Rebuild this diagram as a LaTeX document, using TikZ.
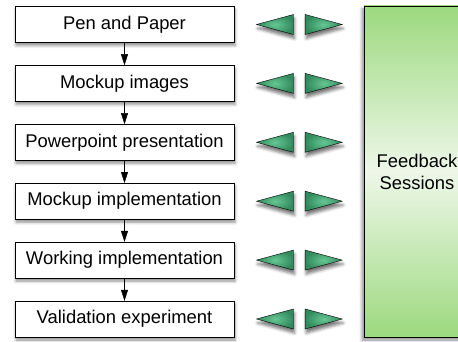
\documentclass[tikz,border=0pt]{standalone}
\usepackage{fontspec}
\setmainfont{Liberation Sans}
\usetikzlibrary{arrows.meta,shapes.geometric,shadows.blur}

\definecolor{panelgreen}{RGB}{156,217,126}
\definecolor{panellight}{RGB}{238,247,233}
\definecolor{tridark}{RGB}{50,138,92}
\definecolor{trilight}{RGB}{102,198,148}

\tikzset{
  stage/.style={draw, fill=white, minimum width=219pt, minimum height=36pt, inner sep=0pt,
    font=\fontsize{18.4}{22}\selectfont,
    blur shadow={shadow xshift=1pt, shadow yshift=-3pt, shadow blur radius=3pt, shadow opacity=45}},
  tri/.style={draw, isosceles triangle, isosceles triangle stretches, minimum width=20pt,
    minimum height=37pt, inner sep=0pt, anchor=apex, inner color=trilight, outer color=tridark,
    blur shadow={shadow xshift=1pt, shadow yshift=-4pt, shadow blur radius=3pt, shadow opacity=55}},
  flow/.style={-{Triangle[length=11pt,width=7pt]}}
}

\begin{document}
\begin{tikzpicture}[x=1pt, y=1pt]
    \clip (0,0) rectangle (458,341);

    % Panel on the right
    \node[draw, minimum width=106pt, minimum height=331pt, inner sep=0pt,
      top color=panelgreen, bottom color=panelgreen, middle color=panellight,
      align=center, font=\fontsize{18.4}{22}\selectfont,
      blur shadow={shadow xshift=-2pt, shadow yshift=-3pt, shadow blur radius=3pt, shadow opacity=45}]
      (feedback) at (417,169.5) {Feedback\\Sessions};

    % Stages
    \node[stage] (pen) at (124.5,316.5) {Pen and Paper};
    \node[stage] (mockimg) at (124.5,257.6) {Mockup images};
    \node[stage] (ppt) at (124.5,198.7) {Powerpoint presentation};
    \node[stage] (mockimpl) at (124.5,139.8) {Mockup implementation};
    \node[stage] (workimpl) at (124.5,80.9) {Working implementation};
    \node[stage] (valid) at (124.5,22) {Validation experiment};

    % Arrows between the stages
    \draw[flow] (pen) -- (mockimg);
    \draw[flow] (mockimg) -- (ppt);
    \draw[flow] (ppt) -- (mockimpl);
    \draw[flow] (mockimpl) -- (workimpl);
    \draw[flow] (workimpl) -- (valid);

    % Triangles towards and from the feedback sessions (placed by their apex)
    \node[tri, shape border rotate=180] (l1) at (256,316.5) {};
    \node[tri] (r1) at (342.7,316.5) {};
    \node[tri, shape border rotate=180] (l2) at (256,257.6) {};
    \node[tri] (r2) at (342.7,257.6) {};
    \node[tri, shape border rotate=180] (l3) at (256,198.7) {};
    \node[tri] (r3) at (342.7,198.7) {};
    \node[tri, shape border rotate=180] (l4) at (256,139.8) {};
    \node[tri] (r4) at (342.7,139.8) {};
    \node[tri, shape border rotate=180] (l5) at (256,80.9) {};
    \node[tri] (r5) at (342.7,80.9) {};
    \node[tri, shape border rotate=180] (l6) at (256,22) {};
    \node[tri] (r6) at (342.7,22) {};

\end{tikzpicture}
\end{document}
